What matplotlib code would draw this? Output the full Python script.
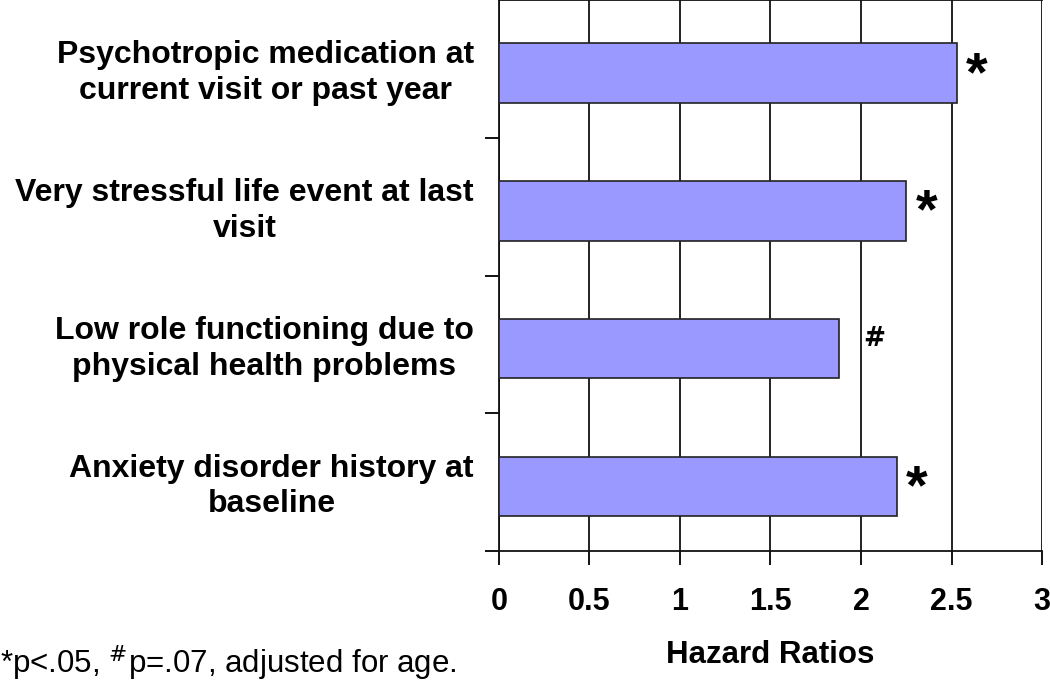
import matplotlib
matplotlib.use("Agg")
import matplotlib.pyplot as plt
import matplotlib.transforms as mtransforms

categories = [
    "Psychotropic medication at\ncurrent visit or past year",
    "Very stressful life event at last\nvisit",
    "Low role functioning due to\nphysical health problems",
    "Anxiety disorder history at\nbaseline",
]
hazard_ratios = [2.53, 2.25, 1.88, 2.20]
markers = ["*", "*", "#", "*"]
x_ticks = [0, 0.5, 1, 1.5, 2, 2.5, 3]
x_tick_labels = ["0", "0.5", "1", "1.5", "2", "2.5", "3"]

plt.rcParams['font.family'] = ['Liberation Sans', 'DejaVu Sans']

fig = plt.figure(figsize=(10.5, 6.84), dpi=100)
ax = fig.add_axes([0.475, 0.194, 0.5175, 0.806])

n = len(categories)
ypos = [n - 1 - i + 0.47 for i in range(n)]
ax.barh(ypos, hazard_ratios, height=0.43, color="#9999FF",
        edgecolor="#222222", linewidth=1.2, zorder=3)

ax.set_xlim(0, 3)
ax.set_ylim(0, n)
ax.set_xticks(x_ticks)
ax.set_xticklabels(x_tick_labels, fontsize=22, fontweight="bold")
ax.set_yticks([0, 1, 2, 3])
ax.set_yticklabels([])
ax.tick_params(axis="x", direction="out", length=10, width=1.3, pad=16)
ax.tick_params(axis="y", direction="out", length=10, width=1.3)
ax.grid(axis="x", color="#111111", linewidth=1.3, zorder=1)
for s in ["top", "right", "left", "bottom"]:
    ax.spines[s].set_linewidth(1.3)
    ax.spines[s].set_color("#111111")
ax.spines["right"].set_visible(False)

ax.set_xlabel("Hazard Ratios", fontsize=22.5, fontweight="bold", labelpad=16)

trans = mtransforms.blended_transform_factory(fig.transFigure, ax.transData)
for y, lab in zip(ypos, categories):
    ax.text(474 / 1050, y + 0.0, lab, transform=trans, ha="right",
            multialignment="center", va="center",
            fontsize=23, fontweight="bold", linespacing=1.25)

for y, v, m in zip(ypos, hazard_ratios, markers):
    if m == "*":
        ax.text(v + 0.05, y - 0.02, m, ha="left", va="center",
                fontsize=40, fontweight="bold", zorder=4)
    else:
        ax.text(v + 0.13, y + 0.07, m, ha="left", va="center",
                fontsize=19, fontweight="bold", family="DejaVu Sans", zorder=4)

fig.text(0.0, 1 - 663 / 684, r"*p<.05, $^{\#}$p=.07, adjusted for age.",
         ha="left", va="center", fontsize=22.5)

fig.savefig("out.png", dpi=100)
